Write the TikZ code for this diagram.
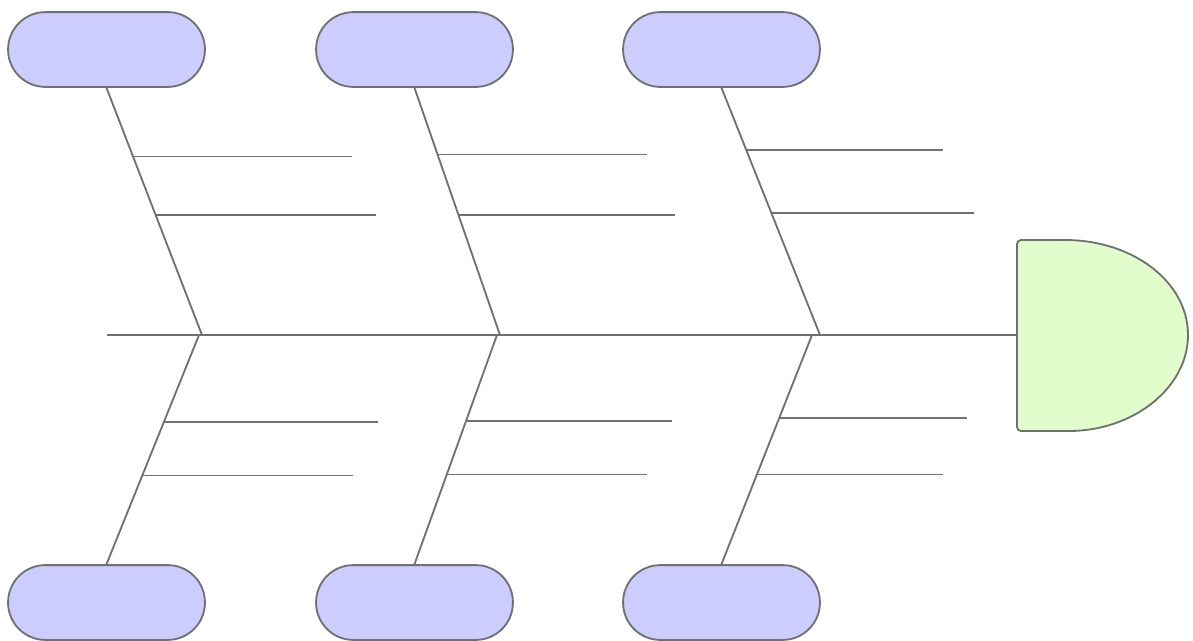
\documentclass[tikz,border=0pt]{standalone}
\usetikzlibrary{positioning}
\definecolor{causefill}{HTML}{CCCCFF}
\definecolor{effectfill}{HTML}{E2FDCC}
\definecolor{bonegray}{HTML}{707070}
\tikzset{
  cause/.style={draw=bonegray, fill=causefill, rounded corners=0.93cm,
    minimum width=4.92cm, minimum height=1.87cm, inner sep=0pt, line width=1.3pt},
  bone/.style={draw=bonegray, line width=1.3pt},
}
\begin{document}
\begin{tikzpicture}[x=0.025cm, y=-0.025cm]
  \useasboundingbox (0,0) rectangle (1193,640);
  % causes
  \node[cause] (t1) at (106.5,49.5) {};
  \node[cause] (t2) at (414.5,49.5) {};
  \node[cause] (t3) at (721.5,49.5) {};
  \node[cause] (b1) at (106.5,602.5) {};
  \node[cause] (b2) at (414.5,602.5) {};
  \node[cause] (b3) at (721.5,602.5) {};
  % joints on the spine
  \coordinate (tail) at (107,335);
  \coordinate (jt1) at (202,335);
  \coordinate (jb1) at (199,335);
  \coordinate (jt2) at (500,335);
  \coordinate (jb2) at (497,335);
  \coordinate (jt3) at (820,335);
  \coordinate (jb3) at (812,335);
  \coordinate (head) at (1017,335);
  % effect
  \draw[bone, fill=effectfill, rounded corners=0.1cm]
    (1065,240) -- (1017,240) -- (1017,431) -- (1065,431) [sharp corners]
    .. controls (1133,431) and (1188,388) .. (1188,335)
    .. controls (1188,282) and (1133,240) .. (1065,240) -- cycle;
  % rib ends
  \coordinate (e1a) at (352,156); \coordinate (e1b) at (376,215);
  \coordinate (e2a) at (647,154); \coordinate (e2b) at (675,215);
  \coordinate (e3a) at (943,149); \coordinate (e3b) at (974,213);
  \coordinate (f1a) at (378,422); \coordinate (f1b) at (353,476);
  \coordinate (f2a) at (672,421); \coordinate (f2b) at (647,475);
  \coordinate (f3a) at (967,418); \coordinate (f3b) at (943,475);
  \begin{scope}[bone]
    \draw (tail) to (head);
    \draw (t1.south) to coordinate[pos=0.278] (s1a) coordinate[pos=0.516] (s1b) (jt1);
    \draw (t2.south) to coordinate[pos=0.270] (s2a) coordinate[pos=0.516] (s2b) (jt2);
    \draw (t3.south) to coordinate[pos=0.250] (s3a) coordinate[pos=0.508] (s3b) (jt3);
    \draw (jb1) to coordinate[pos=0.378] (u1a) coordinate[pos=0.613] (u1b) (b1.north);
    \draw (jb2) to coordinate[pos=0.374] (u2a) coordinate[pos=0.609] (u2b) (b2.north);
    \draw (jb3) to coordinate[pos=0.361] (u3a) coordinate[pos=0.609] (u3b) (b3.north);
    \draw (s1a) to (s1a -| e1a);
    \draw (s1b) to (s1b -| e1b);
    \draw (s2a) to (s2a -| e2a);
    \draw (s2b) to (s2b -| e2b);
    \draw (s3a) to (s3a -| e3a);
    \draw (s3b) to (s3b -| e3b);
    \draw (u1a) to (u1a -| f1a);
    \draw (u1b) to (u1b -| f1b);
    \draw (u2a) to (u2a -| f2a);
    \draw (u2b) to (u2b -| f2b);
    \draw (u3a) to (u3a -| f3a);
    \draw (u3b) to (u3b -| f3b);
  \end{scope}
\end{tikzpicture}
\end{document}
